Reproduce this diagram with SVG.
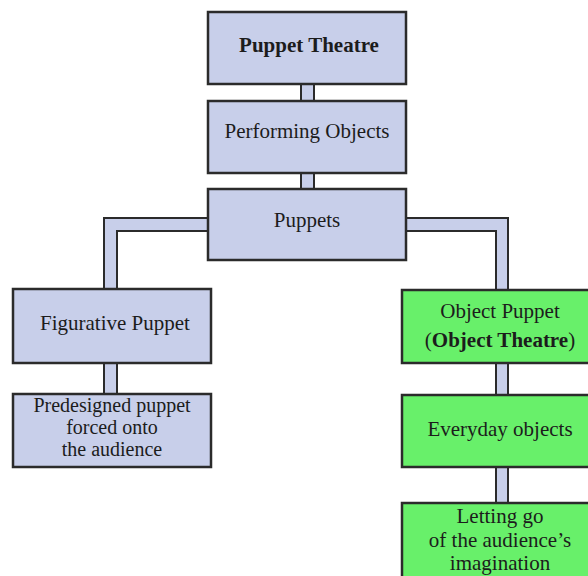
<svg xmlns="http://www.w3.org/2000/svg" width="588" height="576" viewBox="0 0 588 576">
<style>
.box{fill:#c8cfea;stroke:#2b2b2b;stroke-width:2.5}
.green{fill:#68f06a;stroke:#2b2b2b;stroke-width:2.5}
.conn{fill:#c8cfea;stroke:#2b2b2b;stroke-width:2;stroke-linejoin:miter}
.t{font-size:21px;fill:#1c1c1c;text-anchor:middle}
.s{font-size:20px}
.b{font-weight:bold}
</style>
<rect width="588" height="576" fill="#ffffff"/>
<g id="connectors">
<rect class="conn" x="301" y="82" width="13" height="21"/>
<rect class="conn" x="301" y="171" width="13" height="20"/>
<polygon class="conn" points="210,218 104,218 104,291 117,291 117,231 210,231"/>
<polygon class="conn" points="404,218 508,218 508,292 496,292 496,231 404,231"/>
<rect class="conn" x="104" y="361" width="13" height="35"/>
<rect class="conn" x="496" y="361" width="12" height="36"/>
<rect class="conn" x="496" y="465" width="12" height="40"/>
</g>
<g font-family="Liberation Serif, DejaVu Serif, serif">
<g id="puppet-theatre">
<rect class="box" x="208" y="12" width="198" height="72"/>
<text class="t b" x="309" y="52">Puppet Theatre</text>
</g>
<g id="performing-objects">
<rect class="box" x="208" y="101" width="198" height="72"/>
<text class="t" x="307" y="138">Performing Objects</text>
</g>
<g id="puppets">
<rect class="box" x="208" y="189" width="198" height="71"/>
<text class="t" x="307" y="227">Puppets</text>
</g>
<g id="figurative-puppet">
<rect class="box" x="13" y="289" width="198" height="74"/>
<text class="t" x="115" y="330">Figurative Puppet</text>
</g>
<g id="predesigned">
<rect class="box" x="13" y="394" width="198" height="73"/>
<text class="t s" x="112" y="412">Predesigned puppet</text>
<text class="t s" x="112" y="434">forced onto</text>
<text class="t s" x="112" y="456">the audience</text>
</g>
<g id="object-puppet">
<rect class="green" x="402" y="290" width="198" height="73"/>
<text class="t" x="500" y="318">Object Puppet</text>
<text class="t" x="500" y="347">(<tspan class="b">Object Theatre</tspan>)</text>
</g>
<g id="everyday-objects">
<rect class="green" x="402" y="395" width="198" height="72"/>
<text class="t" x="500" y="436">Everyday objects</text>
</g>
<g id="letting-go">
<rect class="green" x="402" y="503" width="198" height="80"/>
<text class="t" x="500" y="523">Letting go</text>
<text class="t" x="500" y="547">of the audience’s</text>
<text class="t" x="500" y="570">imagination</text>
</g>
</g>
</svg>
